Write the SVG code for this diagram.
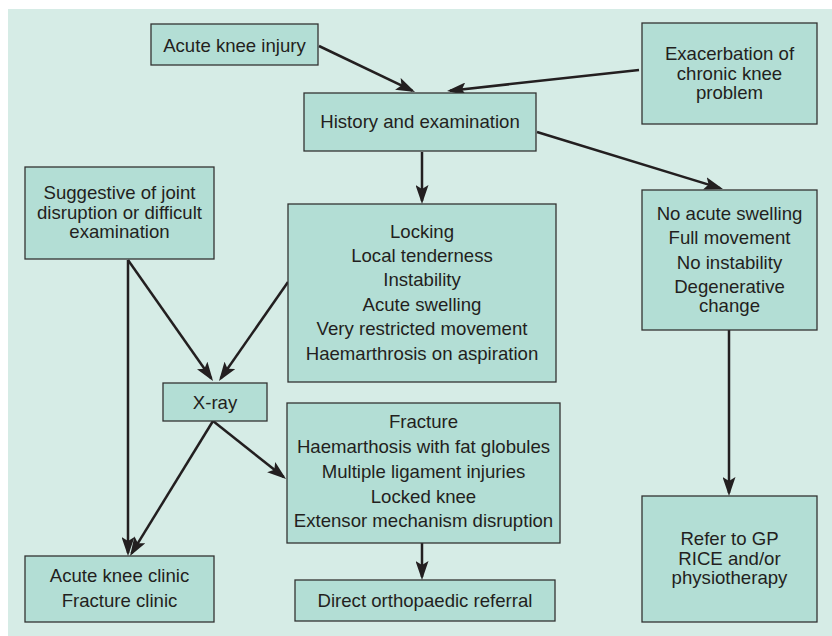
<svg xmlns="http://www.w3.org/2000/svg" width="832" height="636" viewBox="0 0 832 636">
<style>
.box{fill:#b3ded5;stroke:#333;stroke-width:1.3}
.t{font-family:"Liberation Sans",Arial,sans-serif;font-size:18.6px;fill:#231f20;text-anchor:middle}
.c{fill:none;stroke:#231f20;stroke-width:2.5}
</style>
<defs>
<marker id="ah" markerUnits="userSpaceOnUse" markerWidth="20" markerHeight="13" refX="16" refY="6.5" orient="auto">
<path d="M0,0 L19,6.5 L0,13 L4,6.5 Z" fill="#231f20"/>
</marker>
</defs>
<rect x="0" y="0" width="832" height="636" fill="#fff"/>
<rect x="8" y="9" width="824" height="627" fill="#d6ece6"/>
<g id="connectors">
<line class="c" x1="319" y1="46" x2="412.3" y2="90.7" marker-end="url(#ah)"/>
<line class="c" x1="639" y1="70" x2="450" y2="90.7" marker-end="url(#ah)"/>
<line class="c" x1="537" y1="132" x2="720.1" y2="188.1" marker-end="url(#ah)"/>
<line class="c" x1="422" y1="152" x2="422" y2="201" marker-end="url(#ah)"/>
<line class="c" x1="128" y1="260" x2="211.3" y2="378.5" marker-end="url(#ah)"/>
<line class="c" x1="288" y1="282" x2="220.7" y2="378.5" marker-end="url(#ah)"/>
<line class="c" x1="128" y1="260" x2="128" y2="553" marker-end="url(#ah)"/>
<line class="c" x1="213" y1="421" x2="131.6" y2="553.4" marker-end="url(#ah)"/>
<line class="c" x1="213" y1="421" x2="283.7" y2="477.1" marker-end="url(#ah)"/>
<line class="c" x1="422" y1="543" x2="422" y2="577" marker-end="url(#ah)"/>
<line class="c" x1="729" y1="330" x2="729" y2="493" marker-end="url(#ah)"/>
</g>
<g id="acute-injury">
<rect class="box" x="151" y="24" width="167" height="41"/>
<text class="t" x="234.5" y="52">Acute knee injury</text>
</g>
<g id="exacerbation">
<rect class="box" x="642" y="23" width="175" height="101"/>
<text class="t" x="729.5" y="60">Exacerbation of</text>
<text class="t" x="729.5" y="80">chronic knee</text>
<text class="t" x="729.5" y="99">problem</text>
</g>
<g id="history">
<rect class="box" x="304" y="93" width="232" height="58"/>
<text class="t" x="420" y="128">History and examination</text>
</g>
<g id="suggestive">
<rect class="box" x="25" y="167" width="189" height="92"/>
<text class="t" x="119.5" y="199">Suggestive of joint</text>
<text class="t" x="119.5" y="219">disruption or difficult</text>
<text class="t" x="119.5" y="238">examination</text>
</g>
<g id="locking">
<rect class="box" x="288" y="204" width="268" height="178"/>
<text class="t" x="422" y="238">Locking</text>
<text class="t" x="422" y="262">Local tenderness</text>
<text class="t" x="422" y="286">Instability</text>
<text class="t" x="422" y="311">Acute swelling</text>
<text class="t" x="422" y="335">Very restricted movement</text>
<text class="t" x="422" y="360">Haemarthrosis on aspiration</text>
</g>
<g id="no-swelling">
<rect class="box" x="642" y="190" width="175" height="140"/>
<text class="t" x="729.5" y="220">No acute swelling</text>
<text class="t" x="729.5" y="244">Full movement</text>
<text class="t" x="729.5" y="269">No instability</text>
<text class="t" x="729.5" y="293">Degenerative</text>
<text class="t" x="729.5" y="312">change</text>
</g>
<g id="xray">
<rect class="box" x="163" y="383" width="104" height="38"/>
<text class="t" x="215" y="409">X-ray</text>
</g>
<g id="fracture">
<rect class="box" x="287" y="403" width="273" height="140"/>
<text class="t" x="423.5" y="428">Fracture</text>
<text class="t" x="423.5" y="453">Haemarthosis with fat globules</text>
<text class="t" x="423.5" y="478">Multiple ligament injuries</text>
<text class="t" x="423.5" y="503">Locked knee</text>
<text class="t" x="423.5" y="527">Extensor mechanism disruption</text>
</g>
<g id="clinic">
<rect class="box" x="25" y="556" width="189" height="66"/>
<text class="t" x="119.5" y="582">Acute knee clinic</text>
<text class="t" x="119.5" y="607">Fracture clinic</text>
</g>
<g id="ortho">
<rect class="box" x="295" y="580" width="260" height="41"/>
<text class="t" x="425" y="607">Direct orthopaedic referral</text>
</g>
<g id="refer">
<rect class="box" x="642" y="496" width="175" height="126"/>
<text class="t" x="729.5" y="545">Refer to GP</text>
<text class="t" x="729.5" y="565">RICE and/or</text>
<text class="t" x="729.5" y="584">physiotherapy</text>
</g>
</svg>
